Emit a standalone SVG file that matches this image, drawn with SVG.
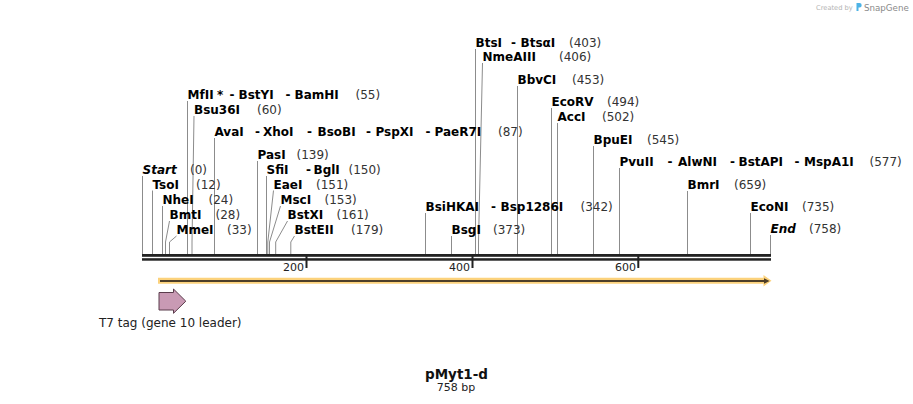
<svg xmlns="http://www.w3.org/2000/svg" width="913" height="404" viewBox="0 0 913 404">
<style>
.n{font-family:"DejaVu Sans",Verdana,sans-serif;font-size:12px;font-weight:bold;fill:#000}
.p{font-family:"DejaVu Sans",Verdana,sans-serif;font-size:12px;fill:#333}
.i{font-style:italic}
.ln{fill:none;stroke:#8c8c8c;stroke-width:1}
.bb{fill:#222}
.tk{fill:#222}
.tl{font-family:"DejaVu Sans",Verdana,sans-serif;font-size:11px;fill:#222;text-anchor:end}
</style>
<rect width="913" height="404" fill="#fff"/>

<g id="credit">
<text x="816" y="10" style="font-family:'DejaVu Sans',sans-serif;font-size:6.7px;fill:#b4b4b4">Created by</text>
<path d="M856.5 3h3a2.2 2.2 0 0 1 0 4.4h-1v3.6h-2z" fill="#4db3e6"/>
<text x="864" y="10.5" style="font-family:'DejaVu Sans',sans-serif;font-size:8.7px;fill:#8a8a8a">SnapGene</text>
</g>

<g id="connectors">
<polyline class="ln" points="475.5,254 475.5,49"/>
<polyline class="ln" points="478.5,254 478.5,242 482.5,63"/>
<polyline class="ln" points="517.5,254 517.5,86"/>
<polyline class="ln" points="187.5,254 187.5,101"/>
<polyline class="ln" points="551.5,254 551.5,108"/>
<polyline class="ln" points="192,254 192,242 194,116"/>
<polyline class="ln" points="557.5,254 557.5,123"/>
<polyline class="ln" points="214.5,254 214.5,138"/>
<polyline class="ln" points="593.5,254 593.5,146"/>
<polyline class="ln" points="257.5,254 257.5,161"/>
<polyline class="ln" points="619.5,254 619.5,168"/>
<polyline class="ln" points="142.5,254 142.5,176"/>
<polyline class="ln" points="266.5,254 266.5,176"/>
<polyline class="ln" points="152.5,254 152.5,190.5"/>
<polyline class="ln" points="267.8,254 267.8,242 273.5,190.5"/>
<polyline class="ln" points="687.5,254 687.5,191"/>
<polyline class="ln" points="162.5,254 162.5,206"/>
<polyline class="ln" points="269.5,254 269.5,242 280.5,206"/>
<polyline class="ln" points="425.5,254 425.5,213"/>
<polyline class="ln" points="750.5,254 750.5,213"/>
<polyline class="ln" points="165.5,254 165.5,242 169.5,221"/>
<polyline class="ln" points="275.7,254 275.7,242 287.5,221"/>
<polyline class="ln" points="169.5,254 169.5,242 176.5,236"/>
<polyline class="ln" points="451.5,254 451.5,236"/>
<polyline class="ln" points="290.8,254 290.8,242 294.5,236"/>
<polyline class="ln" points="770.5,254 770.5,235"/>
</g>

<g id="backbone">
<rect class="bb" x="142" y="254" width="629" height="2.8"/>
<rect class="bb" x="142" y="258.2" width="629" height="2.5"/>
<rect class="tk" x="305.5" y="256" width="2" height="12"/>
<rect class="tk" x="471.5" y="256" width="2" height="12"/>
<rect class="tk" x="637.3" y="256" width="2" height="12"/>
<text class="tl" x="304" y="271">200</text>
<text class="tl" x="470" y="271">400</text>
<text class="tl" x="636" y="271">600</text>
</g>

<g id="feature-line">
<path d="M158 277.7H763.5V275L771.5 280.8L763.5 286.6V283.8H158Z" fill="#fcd27c"/>
<path d="M160 280H764V278.3L769.6 281L764 283.7V282H160Z" fill="#4d3e28"/>
</g>

<g id="feature-T7">
<path d="M159 292.5H173.5V289L185.8 301.2L173.5 313.3V310H159Z" fill="#c99ab4" stroke="#5b3c4c" stroke-width="1"/>
<text x="99" y="327" style="font-family:'DejaVu Sans',Verdana,sans-serif;font-size:12px;fill:#222">T7 tag (gene 10 leader)</text>
</g>

<g id="site-BtsI"><text class="n" x="475.5" y="47">BtsI</text><text class="n" x="511" y="47">-</text><text class="n" x="520.5" y="47">BtsαI</text><text class="p" x="569" y="47">(403)</text></g>
<g id="site-NmeAIII"><text class="n" x="482.5" y="61">NmeAIII</text><text class="p" x="559" y="61">(406)</text></g>
<g id="site-BbvCI"><text class="n" x="517.5" y="84">BbvCI</text><text class="p" x="572" y="84">(453)</text></g>
<g id="site-BamHI"><text class="n" x="187.5" y="99">MfII</text><text class="n" x="217" y="99">*</text><text class="n" x="229.5" y="99">-</text><text class="n" x="238.5" y="99">BstYI</text><text class="n" x="285.5" y="99">-</text><text class="n" x="294.5" y="99">BamHI</text><text class="p" x="355.5" y="99">(55)</text></g>
<g id="site-EcoRV"><text class="n" x="551.5" y="106">EcoRV</text><text class="p" x="607" y="106">(494)</text></g>
<g id="site-Bsu36I"><text class="n" x="194" y="114">Bsu36I</text><text class="p" x="257" y="114">(60)</text></g>
<g id="site-AccI"><text class="n" x="557.5" y="121">AccI</text><text class="p" x="602" y="121">(502)</text></g>
<g id="site-XhoI"><text class="n" x="214.5" y="136">AvaI</text><text class="n" x="255" y="136">-</text><text class="n" x="263" y="136">XhoI</text><text class="n" x="307" y="136">-</text><text class="n" x="317.5" y="136">BsoBI</text><text class="n" x="366" y="136">-</text><text class="n" x="375.5" y="136">PspXI</text><text class="n" x="425.5" y="136">-</text><text class="n" x="434.5" y="136">PaeR7I</text><text class="p" x="498" y="136">(87)</text></g>
<g id="site-BpuEI"><text class="n" x="593.5" y="144">BpuEI</text><text class="p" x="647" y="144">(545)</text></g>
<g id="site-PasI"><text class="n" x="257.5" y="159">PasI</text><text class="p" x="296.5" y="159">(139)</text></g>
<g id="site-PvuII"><text class="n" x="619.5" y="166">PvuII</text><text class="n" x="667.5" y="166">-</text><text class="n" x="678" y="166">AlwNI</text><text class="n" x="730" y="166">-</text><text class="n" x="738.5" y="166">BstAPI</text><text class="n" x="794.5" y="166">-</text><text class="n" x="804" y="166">MspA1I</text><text class="p" x="869.5" y="166">(577)</text></g>
<g id="site-Start"><text class="n i" x="142.5" y="173.5">Start</text><text class="p" x="190" y="173.5">(0)</text></g>
<g id="site-SfiI"><text class="n" x="266.5" y="173.5">SfiI</text><text class="n" x="306" y="173.5">-</text><text class="n" x="313.5" y="173.5">BglI</text><text class="p" x="348.5" y="173.5">(150)</text></g>
<g id="site-TsoI"><text class="n" x="152.5" y="188.5">TsoI</text><text class="p" x="196" y="188.5">(12)</text></g>
<g id="site-EaeI"><text class="n" x="273.5" y="188.5">EaeI</text><text class="p" x="316" y="188.5">(151)</text></g>
<g id="site-BmrI"><text class="n" x="687.5" y="189">BmrI</text><text class="p" x="734" y="189">(659)</text></g>
<g id="site-NheI"><text class="n" x="162.5" y="204">NheI</text><text class="p" x="208.5" y="204">(24)</text></g>
<g id="site-MscI"><text class="n" x="280.5" y="204">MscI</text><text class="p" x="324.5" y="204">(153)</text></g>
<g id="site-BsiHKAI"><text class="n" x="425.5" y="211">BsiHKAI</text><text class="n" x="491" y="211">-</text><text class="n" x="500.5" y="211">Bsp1286I</text><text class="p" x="580.5" y="211">(342)</text></g>
<g id="site-EcoNI"><text class="n" x="750.5" y="211">EcoNI</text><text class="p" x="802" y="211">(735)</text></g>
<g id="site-BmtI"><text class="n" x="169.5" y="219">BmtI</text><text class="p" x="215.5" y="219">(28)</text></g>
<g id="site-BstXI"><text class="n" x="287.5" y="219">BstXI</text><text class="p" x="336.5" y="219">(161)</text></g>
<g id="site-MmeI"><text class="n" x="176.5" y="234">MmeI</text><text class="p" x="227" y="234">(33)</text></g>
<g id="site-BsgI"><text class="n" x="451.5" y="233.5">BsgI</text><text class="p" x="493" y="233.5">(373)</text></g>
<g id="site-BstEII"><text class="n" x="294.5" y="234">BstEII</text><text class="p" x="351" y="234">(179)</text></g>
<g id="site-End"><text class="n i" x="770.5" y="232.5">End</text><text class="p" x="809" y="232.5">(758)</text></g>

<g id="title">
<text x="456.5" y="379" text-anchor="middle" style="font-family:'DejaVu Sans',Verdana,sans-serif;font-size:13.5px;font-weight:bold;fill:#111">pMyt1-d</text>
<text x="456" y="391" text-anchor="middle" style="font-family:'DejaVu Sans',Verdana,sans-serif;font-size:11px;fill:#222">758 bp</text>
</g>
</svg>
